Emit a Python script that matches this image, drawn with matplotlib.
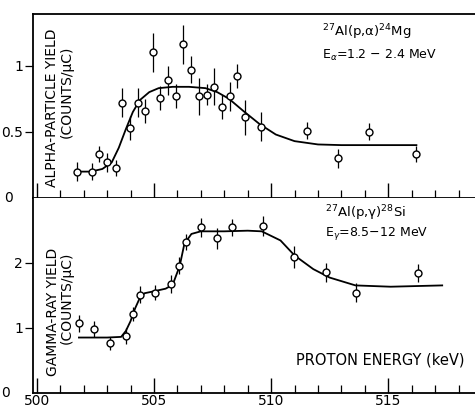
import matplotlib
matplotlib.use("Agg")
import matplotlib.pyplot as plt

# ---- data: alpha-particle yield (top panel) ----
alpha_E = [501.70, 502.36, 502.65, 503.00, 503.36, 503.63, 503.97, 504.30, 504.63,
           504.94, 505.27, 505.61, 505.94, 506.25, 506.58, 506.94, 507.25, 507.58,
           507.91, 508.25, 508.56, 508.89, 509.57, 511.55, 512.85, 514.16, 516.18]
alpha_Y = [0.20, 0.20, 0.33, 0.27, 0.23, 0.72, 0.53, 0.72, 0.66,
           1.10, 0.755, 0.89, 0.77, 1.16, 0.97, 0.77, 0.78, 0.84,
           0.69, 0.77, 0.92, 0.61, 0.54, 0.51, 0.30, 0.50, 0.33]
alpha_err = [0.07, 0.065, 0.06, 0.07, 0.06, 0.11, 0.09, 0.11, 0.09,
             0.15, 0.09, 0.11, 0.09, 0.15, 0.10, 0.14, 0.08, 0.14,
             0.09, 0.11, 0.09, 0.13, 0.11, 0.065, 0.07, 0.065, 0.06]
alpha_fit_E = [501.7, 502.3, 502.8, 503.2, 503.5, 503.8, 504.1, 504.4, 504.8, 505.2,
               505.8, 506.5, 507.2, 507.7, 508.2, 508.8, 509.5, 510.2, 511.0, 512.0,
               513.0, 516.2]
alpha_fit_Y = [0.20, 0.20, 0.22, 0.27, 0.38, 0.52, 0.65, 0.74, 0.80, 0.83,
               0.84, 0.84, 0.83, 0.80, 0.75, 0.66, 0.56, 0.48, 0.43, 0.405,
               0.40, 0.40]

# ---- data: gamma-ray yield (bottom panel) ----
gamma_E = [501.79, 502.46, 503.12, 503.79, 504.09, 504.40, 505.04, 505.73, 506.07,
           506.37, 507.01, 507.68, 508.32, 509.65, 510.98, 512.34, 513.62, 516.27]
gamma_Y = [1.07, 0.98, 0.76, 0.87, 1.21, 1.51, 1.54, 1.67, 1.95,
           2.32, 2.54, 2.37, 2.54, 2.56, 2.08, 1.85, 1.54, 1.84]
gamma_err = [0.13, 0.125, 0.10, 0.12, 0.11, 0.13, 0.12, 0.14, 0.13,
             0.12, 0.15, 0.16, 0.13, 0.15, 0.17, 0.14, 0.14, 0.14]
gamma_fit_E = [501.8, 503.0, 503.6, 503.8, 504.0, 504.2, 504.4, 504.6, 505.0, 505.5,
               505.8, 506.1, 506.3, 506.6, 507.0, 508.0, 509.0, 509.6, 510.4, 511.0,
               511.8, 512.5, 513.6, 515.1, 517.3]
gamma_fit_Y = [0.85, 0.85, 0.86, 0.95, 1.10, 1.30, 1.46, 1.53, 1.56, 1.60,
               1.66, 1.95, 2.29, 2.44, 2.48, 2.48, 2.49, 2.48, 2.34, 2.11,
               1.90, 1.77, 1.65, 1.63, 1.65]

x_major = [500, 505, 510, 515]
x_labels = ['500', '505', '510', '515']
x_minor = list(range(500, 519))
alpha_yticks = [0.5, 1]
alpha_ylabels = ['0.5', '1']
gamma_yticks = [1, 2]
gamma_ylabels = ['1', '2']

plt.rcParams['font.family'] = ['DejaVu Sans']
fig = plt.figure(figsize=(4.75, 4.11), dpi=100)
ax1 = fig.add_axes([0.069, 0.518, 0.931, 0.448])
ax2 = fig.add_axes([0.069, 0.044, 0.931, 0.474])

for ax in (ax1, ax2):
    ax.set_xlim(499.83, 518.7)
    ax.spines['right'].set_visible(False)
    for s in ('left', 'bottom', 'top'):
        ax.spines[s].set_linewidth(1.3)
    ax.set_xticks(x_major)
    ax.set_xticks(x_minor, minor=True)
    ax.tick_params(axis='x', which='major', direction='in', length=11, width=1.0,
                   labelsize=10, pad=1)
    ax.tick_params(axis='x', which='minor', direction='in', length=6, width=0.9)
    ax.tick_params(axis='y', which='major', direction='out', length=6, width=0.9,
                   labelsize=10, pad=1)

ax2.spines['top'].set_visible(False)

ax1.set_ylim(0, 1.39)
ax1.set_yticks(alpha_yticks)
ax1.set_yticklabels(alpha_ylabels)
ax1.tick_params(axis='x', labelbottom=False)

ax2.set_ylim(0, 2.99)
ax2.set_yticks(gamma_yticks)
ax2.set_yticklabels(gamma_ylabels)
ax2.set_xticklabels(x_labels)

# zero labels sit further left in the original
ax1.text(-0.055, 0.0, '0', transform=ax1.transAxes, ha='center', va='center', fontsize=10)
ax2.text(-0.062, 0.0, '0', transform=ax2.transAxes, ha='center', va='center', fontsize=10)

ax1.errorbar(alpha_E, alpha_Y, yerr=alpha_err, fmt='o', ms=5, mfc='white', mec='black',
             mew=1.0, ecolor='black', elinewidth=0.9, capsize=0, zorder=3)
ax1.plot(alpha_fit_E, alpha_fit_Y, color='black', lw=1.3, zorder=2)

ax2.errorbar(gamma_E, gamma_Y, yerr=gamma_err, fmt='o', ms=5, mfc='white', mec='black',
             mew=1.0, ecolor='black', elinewidth=0.9, capsize=0, zorder=3)
ax2.plot(gamma_fit_E, gamma_fit_Y, color='black', lw=1.3, zorder=2)

fs = 10
fig.text(0.109, 0.738, 'ALPHA-PARTICLE YIELD', rotation=90, ha='center', va='center', fontsize=fs)
fig.text(0.141, 0.776, '(COUNTS/μC)', rotation=90, ha='center', va='center', fontsize=fs)
fig.text(0.111, 0.241, 'GAMMA-RAY YIELD', rotation=90, ha='center', va='center', fontsize=fs)
fig.text(0.141, 0.275, '(COUNTS/μC)', rotation=90, ha='center', va='center', fontsize=fs)

fig.text(0.678, 0.922, r'$^{27}$Al(p,α)$^{24}$Mg', ha='left', va='center', fontsize=9.5)
fig.text(0.678, 0.866, r'E$_{\alpha}$=1.2 − 2.4 MeV', ha='left', va='center', fontsize=9)
fig.text(0.684, 0.482, r'$^{27}$Al(p,γ)$^{28}$Si', ha='left', va='center', fontsize=9.5)
fig.text(0.684, 0.433, r'E$_{\gamma}$=8.5−12 MeV', ha='left', va='center', fontsize=9)
fig.text(0.623, 0.124, 'PROTON ENERGY (keV)', ha='left', va='center', fontsize=10.5)

fig.savefig('out.png', dpi=100)
